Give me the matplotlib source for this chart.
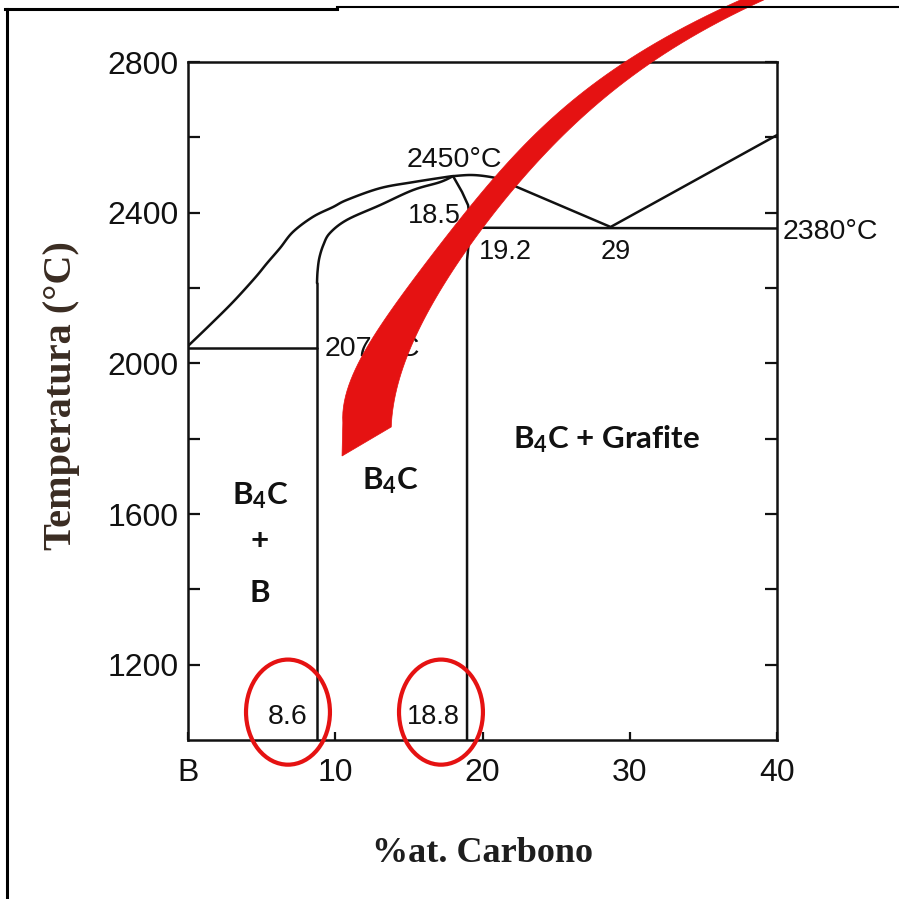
import numpy as np
import matplotlib
matplotlib.use('Agg')
import matplotlib.pyplot as plt
from matplotlib.patches import Polygon, Ellipse
from matplotlib.lines import Line2D

# fonts: narrow sans for the scanned diagram, serif bold for axis titles
NARROW = ['Liberation Sans Narrow', 'Liberation Sans', 'DejaVu Sans']
SERIF = ['Liberation Serif', 'DejaVu Serif']
LABEL = ['Lato', 'Open Sans', 'DejaVu Sans']
plt.rcParams['mathtext.default'] = 'regular'

# phase boundaries (at.% C, temperature in C)
liq_b_x = [0, 1.49, 3.06, 4.55, 5.37, 6.25, 7.13, 8.49, 9.85, 10.80, 13.04, 15.28, 17.59, 18.0]
liq_b_t = [2046, 2102, 2163, 2227, 2266, 2306, 2349, 2389, 2415, 2434, 2465, 2481, 2495, 2497]

b4c_vert_x = [8.76, 8.76]
b4c_vert_t = [1000, 2213]
b4c_left_x = [8.76, 8.80, 8.92, 9.20, 9.64, 10.80, 13.04, 15.28, 17.11, 18.0]
b4c_left_t = [2213, 2245, 2280, 2315, 2346, 2381, 2420, 2460, 2481, 2497]

b4c_right_x = [18.0, 18.61, 19.02, 19.22, 19.08, 18.95, 18.95]
b4c_right_t = [2497, 2455, 2420, 2362, 2327, 2274, 1000]

liq_c_x = [18.0, 19.15, 20.17, 21.19, 21.87]
liq_c_t = [2497, 2500, 2497, 2489, 2476]
liq_c_line_x = [21.87, 28.7, 40]
liq_c_line_t = [2476, 2362, 2606]

eut_b_x = [0, 8.76]
eut_b_t = [2042, 2042]
eut_c_x = [19.22, 40]
eut_c_t = [2360, 2358]

x_ticks = [0, 10, 20, 30, 40]
x_tick_labels = ['B', '10', '20', '30', '40']
y_ticks = [1200, 1600, 2000, 2400, 2800]
y_minor = [1400, 1800, 2200, 2600]

# red curved arrow, edges (x in at.%, T in C)
arrow_outer_x = [13.92, 13.92, 14.26, 14.87, 15.76, 17.11, 18.27, 19.63, 21.19, 22.55,
                 24.24, 26.15, 28.66, 31.38, 34.09, 36.81, 39.39]
arrow_outer_t = [1831, 1903, 1969, 2035, 2081, 2168, 2256, 2346, 2434, 2505,
                 2553, 2612, 2707, 2797, 2872, 2925, 2965]
arrow_tip_x = [10.46]
arrow_tip_t = [1754]
arrow_inner_x = [10.53, 10.73, 11.00, 11.34, 11.82, 12.50, 13.58, 14.87, 16.23, 17.59,
                 19.15, 20.71, 22.21, 24.11, 26.83, 29.54, 32.39, 35.11, 37.83]
arrow_inner_t = [1842, 1903, 1948, 1990, 2035, 2081, 2128, 2168, 2256, 2346,
                 2434, 2505, 2558, 2612, 2707, 2797, 2872, 2925, 2965]

# circled compositions
circle_x = [6.79, 17.18]
circle_t = [1074, 1074]

RED = '#e51212'
INK = '#111111'


def smooth(pts, n=8):
    """Catmull-Rom curve through the given points"""
    p = np.array(pts, dtype=float)
    p = np.vstack([p[0], p, p[-1]])
    out = []
    for i in range(1, len(p) - 2):
        p0, p1, p2, p3 = p[i - 1], p[i], p[i + 1], p[i + 2]
        for t in np.linspace(0, 1, n, endpoint=False):
            out.append(0.5 * (2 * p1 + (-p0 + p2) * t
                              + (2 * p0 - 5 * p1 + 4 * p2 - p3) * t ** 2
                              + (-p0 + 3 * p1 - 3 * p2 + p3) * t ** 3))
    out.append(p[-2])
    return np.array(out)


def edge(xs, ts, deg=5, n=80):
    """smooth arrow edge: x fitted as a function of T"""
    ts = np.asarray(ts, float)
    tn = (ts - 2400) / 600
    coef = np.polyfit(tn, xs, deg)
    tt = np.linspace(tn.min(), tn.max(), n)
    return np.column_stack([np.polyval(coef, tt), tt * 600 + 2400])


fig = plt.figure(figsize=(8.99, 8.99), dpi=100)
ax = fig.add_axes([188 / 899, 1 - 740 / 899, 589 / 899, 678 / 899])
ax.set_xlim(0, 40)
ax.set_ylim(1000, 2800)

lw = 1.8
for xs, ts in [(liq_b_x, liq_b_t), (b4c_left_x, b4c_left_t), (liq_c_x, liq_c_t)]:
    c = smooth(list(zip(xs, ts)))
    ax.plot(c[:, 0], c[:, 1], color=INK, lw=lw, solid_capstyle='round', zorder=3)
for xs, ts in [(b4c_vert_x, b4c_vert_t), (b4c_right_x, b4c_right_t),
               (liq_c_line_x, liq_c_line_t), (eut_b_x, eut_b_t), (eut_c_x, eut_c_t)]:
    ax.plot(xs, ts, color=INK, lw=lw, solid_joinstyle='round', solid_capstyle='round', zorder=3)

for s in ax.spines.values():
    s.set_linewidth(1.8)
    s.set_color(INK)

ax.set_xticks(x_ticks)
ax.set_xticklabels(x_tick_labels)
ax.set_yticks(y_ticks)
ax.set_yticks(y_minor, minor=True)
ax.tick_params(axis='y', which='both', direction='in', length=8.5, width=1.6,
               left=True, right=True, pad=7, labelsize=23, colors=INK)
ax.tick_params(axis='x', which='both', direction='in', length=6, width=1.6,
               top=False, pad=13, labelsize=23, colors=INK)
for lab in ax.get_xticklabels() + ax.get_yticklabels():
    lab.set_family(NARROW)

# point labels on the diagram
small = dict(family=NARROW, color=INK, zorder=4)
ax.text(18.06, 2540, '2450°C', ha='center', va='center', fontsize=20.5, **small)
ax.text(16.7, 2391, '18.5', ha='center', va='center', fontsize=19.5, **small)
ax.text(21.53, 2296, '19.2', ha='center', va='center', fontsize=19.5, **small)
ax.text(29.07, 2296, '29', ha='center', va='center', fontsize=19.5, **small)
ax.text(40.4, 2349, '2380°C', ha='left', va='center', fontsize=20.5, clip_on=False, **small)
ax.text(9.30, 2038, '2075°C', ha='left', va='center', fontsize=20.5, **small)
ax.text(6.79, 1061, '8.6', ha='center', va='center', fontsize=20.5, **small)
ax.text(16.64, 1061, '18.8', ha='center', va='center', fontsize=19.5, **small)

# phase field names
big = dict(family=LABEL, fontweight='bold', color=INK, fontsize=22.5, zorder=4)
ax.text(28.45, 1775, 'B$_4$C + Grafite', ha='center', va='baseline', **big)
ax.text(13.72, 1666, 'B$_4$C', ha='center', va='baseline', **big)
ax.text(4.89, 1627, 'B$_4$C', ha='center', va='baseline', **big)
ax.text(4.89, 1528, '+', ha='center', va='center', **big)
ax.text(4.89, 1366, 'B', ha='center', va='baseline', **big)

# red marks
outer = edge(arrow_outer_x, arrow_outer_t)
inner = edge(arrow_inner_x, arrow_inner_t)
outline = np.vstack([outer[::-1], np.column_stack([arrow_tip_x, arrow_tip_t]), inner])
ax.add_patch(Polygon(outline, closed=True, facecolor=RED, edgecolor=RED, lw=0.5,
                     clip_on=False, zorder=10))
for cx, ct in zip(circle_x, circle_t):
    ax.add_patch(Ellipse((cx, ct), 5.7, 279, fill=False, edgecolor=RED, lw=3,
                         clip_on=False, zorder=10))

# axis titles
fig.text(61 / 899, 1 - 396 / 899, 'Temperatura (°C)', rotation=90, ha='center', va='center',
         family=SERIF, fontweight='bold', fontsize=29, color='#3a2c22')
fig.text(483 / 899, 1 - 853 / 899, '%at. Carbono', ha='center', va='center',
         family=SERIF, fontweight='bold', fontsize=26, color='#1e1e1e')

# frame around the picture
fig.add_artist(Line2D([7 / 899, 7 / 899], [0, 1 - 9 / 899], color='black', lw=2.2))
fig.add_artist(Line2D([5 / 899, 337 / 899], [1 - 9 / 899, 1 - 9 / 899], color='black', lw=2.2))
fig.add_artist(Line2D([337 / 899, 1], [1 - 7 / 899, 1 - 7 / 899], color='black', lw=1.5))

fig.savefig('out.png', dpi=100)
